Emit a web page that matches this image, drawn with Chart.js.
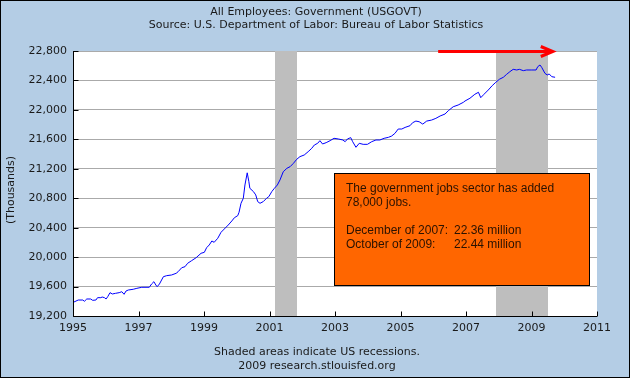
<!DOCTYPE html>
<html>
<head>
<meta charset="utf-8">
<script src="https://cdn.jsdelivr.net/npm/chart.js@4"></script>
<style>
  html, body { margin: 0; padding: 0; background: #b4cde5; }
  #wrap { width: 630px; height: 378px; }
</style>
</head>
<body>
<div id="wrap"><canvas id="myChart" width="630" height="378"></canvas></div>
<script>
// USGOVT, thousands (decimal year, value)
var years = [
  1995.01, 1995.16, 1995.30, 1995.35, 1995.42, 1995.54, 1995.60, 1995.70, 1995.75, 1995.85,
  1995.89, 1995.96, 1996.01, 1996.06, 1996.13, 1996.20, 1996.30, 1996.41, 1996.49, 1996.56,
  1996.62, 1996.69, 1996.84, 1996.95, 1997.10, 1997.33, 1997.40, 1997.47, 1997.53, 1997.57,
  1997.64, 1997.76, 1997.86, 1998.01, 1998.15, 1998.21, 1998.32, 1998.42, 1998.50, 1998.62,
  1998.76, 1998.91, 1999.01, 1999.08, 1999.16, 1999.24, 1999.31, 1999.42, 1999.52, 1999.62,
  1999.74, 1999.85, 1999.93, 2000.03, 2000.07, 2000.13, 2000.20, 2000.25, 2000.32, 2000.37,
  2000.40, 2000.51, 2000.58, 2000.64, 2000.71, 2000.81, 2000.91, 2000.98, 2001.07, 2001.15,
  2001.24, 2001.32, 2001.42, 2001.53, 2001.63, 2001.73, 2001.83, 2001.93, 2002.06, 2002.18,
  2002.29, 2002.37, 2002.47, 2002.54, 2002.62, 2002.73, 2002.85, 2002.97, 2003.10, 2003.24,
  2003.31, 2003.38, 2003.48, 2003.54, 2003.64, 2003.74, 2003.86, 2003.99, 2004.12, 2004.25,
  2004.37, 2004.50, 2004.63, 2004.73, 2004.83, 2004.93, 2005.04, 2005.14, 2005.29, 2005.37,
  2005.47, 2005.57, 2005.68, 2005.80, 2005.95, 2006.08, 2006.21, 2006.36, 2006.46, 2006.61,
  2006.76, 2006.92, 2006.97, 2007.12, 2007.27, 2007.38, 2007.45, 2007.55, 2007.68, 2007.80,
  2007.91, 2008.02, 2008.14, 2008.24, 2008.34, 2008.44, 2008.55, 2008.63, 2008.75, 2008.85,
  2009.01, 2009.14, 2009.19, 2009.26, 2009.31, 2009.41, 2009.48, 2009.54, 2009.62, 2009.72
];
var govt = [
  19386, 19417, 19417, 19400, 19431, 19431, 19413, 19417, 19449, 19449,
  19458, 19449, 19431, 19462, 19517, 19499, 19508, 19517, 19530, 19495,
  19540, 19553, 19563, 19576, 19590, 19590, 19635, 19666, 19621, 19598,
  19635, 19734, 19748, 19757, 19780, 19802, 19856, 19870, 19916, 19951,
  19992, 20052, 20065, 20128, 20165, 20219, 20201, 20256, 20337, 20382,
  20436, 20491, 20536, 20563, 20609, 20731, 20799, 20980, 21145, 21025,
  20935, 20890, 20845, 20754, 20731, 20754, 20799, 20822, 20890, 20935,
  20980, 21048, 21160, 21206, 21229, 21274, 21328, 21365, 21387, 21432,
  21478, 21523, 21546, 21582, 21537, 21555, 21582, 21614, 21605, 21591,
  21568, 21605, 21623, 21568, 21492, 21546, 21532, 21532, 21568, 21591,
  21591, 21614, 21627, 21645, 21681, 21740, 21740, 21762, 21785, 21826,
  21848, 21839, 21807, 21848, 21862, 21885, 21917, 21944, 21989, 22043,
  22066, 22103, 22121, 22158, 22212, 22239, 22166, 22212, 22270, 22329,
  22375, 22416, 22443, 22483, 22519, 22551, 22542, 22551, 22533, 22542,
  22542, 22542, 22587, 22610, 22579, 22497, 22474, 22488, 22451, 22443
];

// recessions (start, end)
var recessionStart = [2001.17, 2007.92];
var recessionEnd = [2001.83, 2009.50];

var yTicks = [19200, 19600, 20000, 20400, 20800, 21200, 21600, 22000, 22400, 22800];
var xTicks = [1995, 1997, 1999, 2001, 2003, 2005, 2007, 2009, 2011];

var titleLines = ['All Employees: Government (USGOVT)',
                  'Source: U.S. Department of Labor: Bureau of Labor Statistics'];
var footerLines = ['Shaded areas indicate US recessions.',
                   '2009 research.stlouisfed.org'];
var noteLines = ['The government jobs sector has added', '78,000 jobs.', '',
                 'December of 2007:', 'October of 2009:'];
var noteValues = ['', '', '', '22.36 million', '22.44 million'];

var points = years.map(function (y, i) { return {x: y, y: govt[i]}; });

var decor = {
    id: 'decor',
    beforeDraw: function (chart) {
        var c = chart.ctx, a = chart.chartArea;
        c.save();
        c.fillStyle = '#b4cde5';
        c.fillRect(0, 0, chart.width, chart.height);
        c.fillStyle = '#ffffff';
        c.fillRect(a.left, a.top, a.right - a.left, a.bottom - a.top);
        c.restore();
    },
    beforeDatasetsDraw: function (chart) {
        var c = chart.ctx, a = chart.chartArea, xs = chart.scales.x;
        c.save();
        c.fillStyle = '#bebebe';
        for (var i = 0; i < recessionStart.length; i++) {
            var x0 = Math.round(xs.getPixelForValue(recessionStart[i]));
            var x1 = Math.round(xs.getPixelForValue(recessionEnd[i]));
            c.fillRect(x0, a.top, x1 - x0, a.bottom - a.top);
        }
        c.restore();
    },
    afterDatasetsDraw: function (chart) {
        var c = chart.ctx, a = chart.chartArea;
        var xs = chart.scales.x, ys = chart.scales.y;
        c.save();
        // axes + inside ticks
        c.strokeStyle = '#000000';
        c.lineWidth = 1;
        c.beginPath();
        var lx = Math.round(a.left) + 0.5, by = Math.round(a.bottom) + 0.5;
        c.moveTo(lx, Math.round(a.top));
        c.lineTo(lx, by);
        c.lineTo(Math.round(a.right), by);
        yTicks.forEach(function (v) {
            var py = Math.round(ys.getPixelForValue(v)) + 0.5;
            c.moveTo(lx, py); c.lineTo(lx + 5, py);
        });
        xTicks.forEach(function (v) {
            var px = Math.round(xs.getPixelForValue(v)) + 0.5;
            c.moveTo(px, by); c.lineTo(px, by - 5);
        });
        c.stroke();

        // red arrow
        var ay = Math.round(ys.getPixelForValue(22800)) + 0.5;
        var ax0 = xs.getPixelForValue(2006.15), ax1 = xs.getPixelForValue(2009.65);
        c.strokeStyle = '#ff0000';
        c.lineWidth = 3;
        c.beginPath();
        c.moveTo(ax0, ay); c.lineTo(ax1 - 2, ay);
        c.stroke();
        c.beginPath();
        c.moveTo(ax1 - 12, ay - 5); c.lineTo(ax1, ay); c.lineTo(ax1 - 12, ay + 5);
        c.stroke();

        // orange note
        var bx = 334.5, bt = 173.5, bw = 255, bh = 112;
        c.fillStyle = '#ff6600';
        c.fillRect(bx, bt, bw, bh);
        c.strokeStyle = '#000000';
        c.lineWidth = 1;
        c.strokeRect(bx, bt, bw, bh);
        c.fillStyle = '#2a1200';
        c.font = '12px "Liberation Sans", Arial, sans-serif';
        c.textBaseline = 'middle';
        c.textAlign = 'left';
        var lineY = [189, 203, 217, 231, 245];
        noteLines.forEach(function (t, i) {
            c.fillText(t, 346, lineY[i]);
            if (noteValues[i]) c.fillText(noteValues[i], 454, lineY[i]);
        });

        // titles, footer, axis title
        c.fillStyle = '#1a1a1a';
        c.font = '11px "DejaVu Sans", Verdana, sans-serif';
        c.textAlign = 'center';
        c.fillText(titleLines[0], 316, 12);
        c.fillText(titleLines[1], 316, 25);
        c.fillText(footerLines[0], 317, 352);
        c.fillText(footerLines[1], 317, 366);
        c.save();
        c.translate(11, 190);
        c.rotate(-Math.PI / 2);
        c.fillText('(Thousands)', 0, 0);
        c.restore();

        // outer frame
        c.strokeStyle = '#000000';
        c.strokeRect(0.5, 0.5, chart.width - 1, chart.height - 1);
        c.restore();
    }
};

var ctx = document.getElementById('myChart').getContext('2d');
var myChart = new Chart(ctx, {
    type: 'line',
    data: {
        datasets: [{
            label: 'USGOVT',
            data: points,
            borderColor: '#0000ff',
            borderWidth: 1,
            pointRadius: 0,
            tension: 0,
            fill: false
        }]
    },
    options: {
        responsive: false,
        animation: false,
        layout: { padding: { top: 51, right: 33, bottom: 0, left: 0 } },
        plugins: {
            legend: { display: false },
            tooltip: { enabled: false }
        },
        scales: {
            x: {
                type: 'linear',
                min: 1995,
                max: 2011,
                afterFit: function (s) { s.height = 62; },
                afterBuildTicks: function (s) { s.ticks = xTicks.map(function (v) { return {value: v}; }); },
                grid: { display: false, drawTicks: false },
                border: { display: false },
                ticks: {
                    padding: 6,
                    color: '#1a1a1a',
                    font: { family: '"DejaVu Sans", Verdana, sans-serif', size: 11 },
                    callback: function (v) { return String(v); }
                }
            },
            y: {
                min: 19200,
                max: 22800,
                afterFit: function (s) { s.width = 73; },
                afterBuildTicks: function (s) { s.ticks = yTicks.map(function (v) { return {value: v}; }); },
                grid: { color: '#aaaaaa', lineWidth: 1, drawTicks: false },
                border: { display: false },
                ticks: {
                    padding: 6,
                    color: '#1a1a1a',
                    font: { family: '"DejaVu Sans", Verdana, sans-serif', size: 11 },
                    callback: function (v) { return v.toLocaleString('en-US'); }
                }
            }
        }
    },
    plugins: [decor]
});
</script>
</body>
</html>
